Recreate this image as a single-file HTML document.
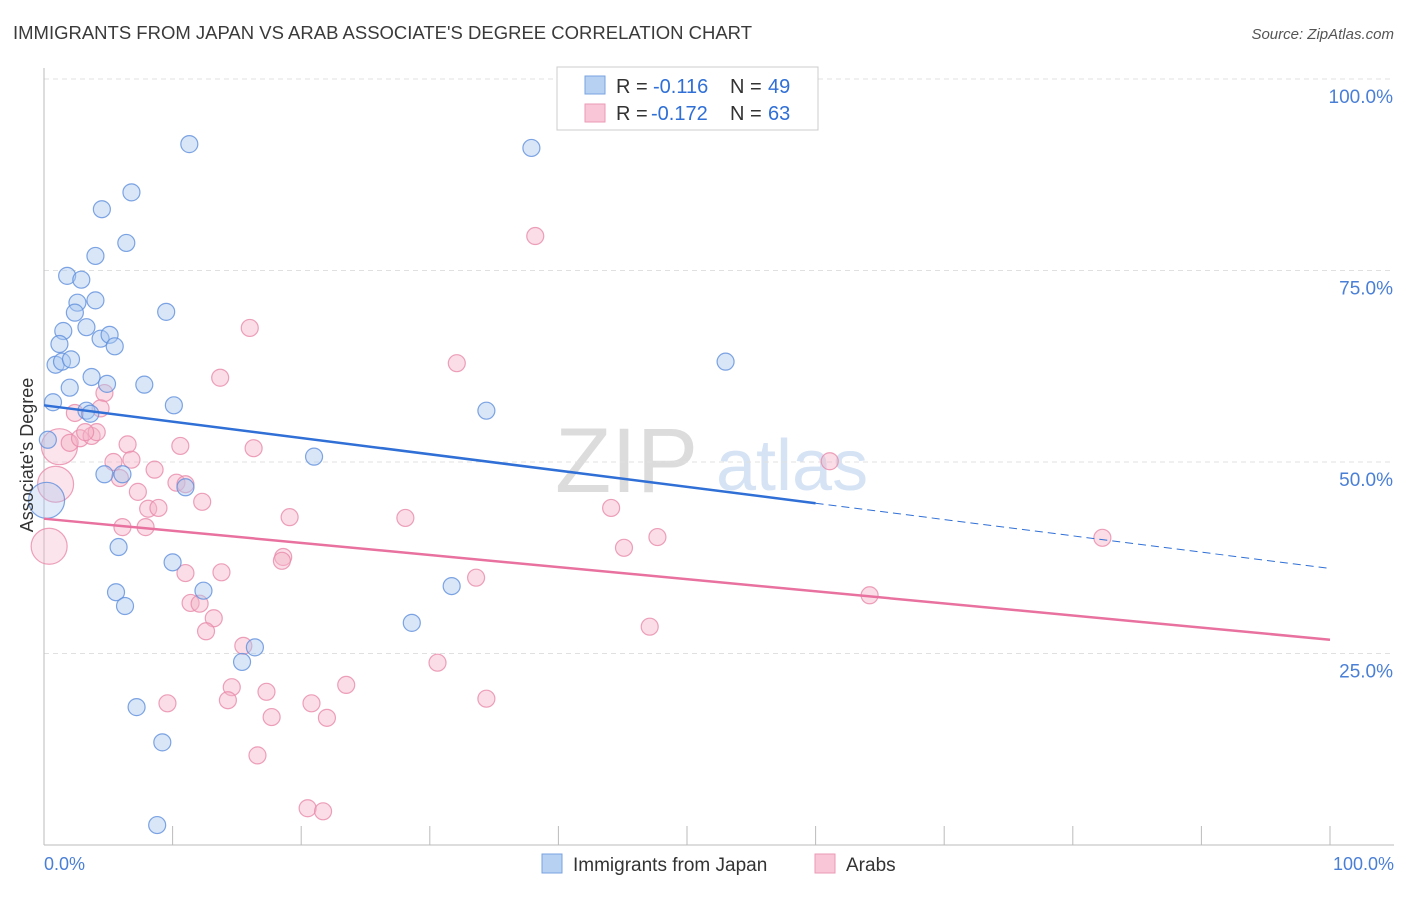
<!DOCTYPE html>
<html><head><meta charset="utf-8"><style>
body{margin:0;background:#fff;font-family:"Liberation Sans",sans-serif;}
svg text{font-family:"Liberation Sans",sans-serif;}
</style></head><body>
<svg id="chart" width="1406" height="892" viewBox="0 0 1406 892">
<text x="13" y="39" font-size="18" fill="#3a3a3a" textLength="739" lengthAdjust="spacingAndGlyphs">IMMIGRANTS FROM JAPAN VS ARAB ASSOCIATE'S DEGREE CORRELATION CHART</text>
<text x="1394" y="39" font-size="15" fill="#555" text-anchor="end" font-style="italic">Source: ZipAtlas.com</text>
<g>
<text x="555" y="492" font-size="92" fill="#dcdcdc" font-family="Liberation Serif,serif">ZIP</text>
<text x="716" y="490" font-size="72" fill="#d5e3f5">atlas</text>
</g>
<g id="grid"></g>
<g id="axes"></g>
<g id="pts"></g>
<g id="lines"></g>
<text transform="translate(33,455) rotate(-90)" font-size="18" fill="#333" text-anchor="middle">Associate's Degree</text>
<g>
<rect x="557" y="67" width="261" height="63" fill="#fff" stroke="#ccc"/>
<rect x="585" y="76" width="20" height="18" fill="#b7d1f3" stroke="#7aa3e0"/>
<rect x="585" y="104" width="20" height="18" fill="#f8c6d6" stroke="#eb9ab6"/>
<text x="616" y="93" font-size="20" fill="#333">R =</text>
<text x="653" y="93" font-size="20" fill="#2f6fd6">-0.116</text>
<text x="730" y="93" font-size="20" fill="#333">N =</text>
<text x="768" y="93" font-size="20" fill="#2f6fd6">49</text>
<text x="616" y="120" font-size="20" fill="#333">R =</text>
<text x="651" y="120" font-size="20" fill="#2f6fd6">-0.172</text>
<text x="730" y="120" font-size="20" fill="#333">N =</text>
<text x="768" y="120" font-size="20" fill="#2f6fd6">63</text>
</g>
<g>
<rect x="542" y="854" width="20" height="19" fill="#b7d1f3" stroke="#7aa3e0"/>
<text x="573" y="871" font-size="19" fill="#333">Immigrants from Japan</text>
<rect x="815" y="854" width="20" height="19" fill="#f8c6d6" stroke="#eb9ab6"/>
<text x="846" y="871" font-size="19" fill="#333">Arabs</text>
</g>
<text x="44" y="870" font-size="18" fill="#4a7fd6">0.0%</text>
<text x="1394" y="870" font-size="18" fill="#4a7fd6" text-anchor="end">100.0%</text>
</svg>
<script>
const blueX=[11.3,37.9,6.8,4.5,6.4,4.0,1.8,2.9,4.0,2.6,2.4,9.5,3.3,1.5,4.4,5.1,5.5,1.2,0.9,1.4,2.1,53.0,3.7,4.9,7.8,2.0,0.7,10.1,34.4,3.3,3.6,0.3,21.0,4.7,6.1,11.0,0.2,5.8,10.0,5.6,12.4,6.3,31.7,28.6,16.4,15.4,7.2,9.2,8.8];
const blueY=[91.5,91.0,85.2,83.0,78.6,76.9,74.3,73.8,71.1,70.8,69.5,69.6,67.6,67.1,66.1,66.6,65.1,65.4,62.7,63.1,63.4,63.1,61.1,60.2,60.1,59.7,57.8,57.4,56.7,56.7,56.3,52.9,50.7,48.4,48.4,46.7,45.0,38.9,36.9,33.0,33.2,31.2,33.8,29.0,25.8,23.9,18.0,13.4,2.6];
const blueBig=[36];
const pinkX=[38.2,16.0,32.1,13.7,4.7,4.4,2.4,1.2,2.0,2.8,3.7,4.1,3.2,6.5,10.6,16.3,6.8,5.4,8.6,61.1,10.3,11.0,5.9,0.9,7.3,12.3,8.1,8.9,19.1,28.1,44.1,6.1,7.9,0.4,47.7,45.1,82.3,18.6,18.5,11.0,13.8,33.6,64.2,11.4,12.1,13.2,12.6,47.1,15.5,30.6,14.6,23.5,9.6,14.3,17.3,34.4,20.8,17.7,22.0,16.6,20.5,21.7];
const pinkY=[79.5,67.5,62.9,61.0,59.0,57.0,56.4,52.0,52.5,53.1,53.4,53.9,53.9,52.3,52.1,51.8,50.3,50.0,49.0,50.1,47.3,47.1,47.9,47.1,46.1,44.8,43.9,44.0,42.8,42.7,44.0,41.5,41.5,39.0,40.2,38.8,40.1,37.6,37.1,35.5,35.6,34.9,32.6,31.6,31.5,29.6,27.9,28.5,26.0,23.8,20.6,20.9,18.5,18.9,20.0,19.1,18.5,16.7,16.6,11.7,4.8,4.4];
const pinkBig=[7,23,33];
const yTicks=[25,50,75,100];
const yTickLabels=["25.0%","50.0%","75.0%","100.0%"];
const xTicks=[0,10,20,30,40,50,60,70,80,90,100];
const blueTrend=[57.4,36.1];
const pinkTrend=[42.6,26.8];
const NS="http://www.w3.org/2000/svg";
const sx=v=>44+v*12.86, sy=v=>845-v*7.66;
function mk(t,a,p){const e=document.createElementNS(NS,t);for(const k in a)e.setAttribute(k,a[k]);p.appendChild(e);return e;}
const grid=document.getElementById('grid'),axes=document.getElementById('axes'),pts=document.getElementById('pts'),lines=document.getElementById('lines');
yTicks.forEach((t,i)=>{
 const l=mk('line',{x1:44,x2:1394,y1:sy(t),y2:sy(t),stroke:'#e0e0e0','stroke-dasharray':'5,4'},grid);
 
 
 const tx=mk('text',{x:1393,y:sy(t)+24,'font-size':19,fill:'#4a7fd6','text-anchor':'end'},axes);
 tx.textContent=yTickLabels[i];
 
 
});
const ya=mk('line',{x1:44,x2:44,y1:68,y2:845,stroke:'#bbb'},axes);


const xa=mk('line',{x1:44,x2:1394,y1:845,y2:845,stroke:'#bbb'},axes);


xTicks.forEach(t=>{
 const l=mk('line',{x1:sx(t),x2:sx(t),y1:826,y2:845,stroke:'#bbb'},axes);
 
 
});
function dots(X,Y,big,fill,stroke,name){
 X.forEach((x,i)=>{
  const b=big.includes(i);
  const c=mk('circle',{cx:sx(x),cy:sy(Y[i]),r:b?18:8.5,fill:fill,'fill-opacity':b?0.35:0.45,stroke:stroke,'stroke-width':1.2,'stroke-opacity':0.8},pts);
  
  
 });
}
dots(pinkX,pinkY,pinkBig,'#f5b3c8','#e88aaa','arab-point');
dots(blueX,blueY,blueBig,'#a9c7f0','#5f8fdc','japan-point');
const by=x=>blueTrend[0]+(blueTrend[1]-blueTrend[0])*x/100;
const b1=mk('line',{x1:sx(0),y1:sy(by(0)),x2:sx(60),y2:sy(by(60)),stroke:'#2f6fd6','stroke-width':2.5},lines);


const b2=mk('line',{x1:sx(60),y1:sy(by(60)),x2:sx(100),y2:sy(by(100)),stroke:'#2f6fd6','stroke-width':1,'stroke-dasharray':'8,5'},lines);


const p1=mk('line',{x1:sx(0),y1:sy(pinkTrend[0]),x2:sx(100),y2:sy(pinkTrend[1]),stroke:'#e8719f','stroke-width':2.5},lines);


</script>
</body></html>
